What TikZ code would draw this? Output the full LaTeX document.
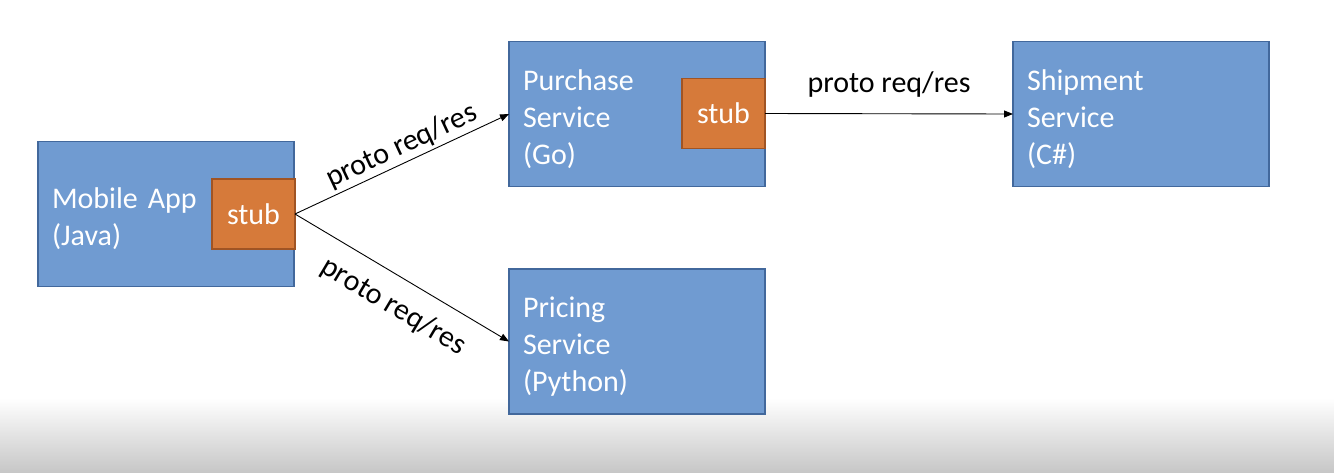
\documentclass[tikz,border=0pt]{standalone}
\usepackage{fontspec}
\setmainfont{Carlito}
\usetikzlibrary{arrows.meta}
\definecolor{svcfill}{RGB}{112,155,209}
\definecolor{svcedge}{RGB}{66,104,156}
\definecolor{stubfill}{RGB}{214,122,58}
\definecolor{stubedge}{RGB}{160,84,36}
\begin{document}
\begin{tikzpicture}[x=1pt,y=-1pt,
  every node/.style={font=\fontsize{30}{37}\selectfont},
  svc/.style={draw=svcedge, fill=svcfill, line width=1.5pt, text=white,
    align=left, text width=228pt, inner xsep=14pt, inner ysep=0pt,
    minimum height=145pt, outer sep=0pt,
    execute at begin node=\rule{0pt}{31pt}},
  stubbox/.style={draw=stubedge, fill=stubfill, line width=1.5pt, text=white,
    minimum width=83pt, minimum height=70pt, inner sep=0pt, outer sep=0pt},
  call/.style={line width=0.9pt, -{Triangle[length=9pt,width=7pt]}},
  lbl/.style={text=black, inner sep=3pt}]
  % canvas and bottom fade
  \useasboundingbox (0,0) rectangle (1334,472);
  \fill[white] (0,0) rectangle (1334,472);
  \shade[top color=white, bottom color=black!22] (0,398) rectangle (1334,472);

  % services
  \node[svc] (mobile)   at (166,214)   {Mobile App\\(Java)};
  \node[svc] (purchase) at (637,114)   {Purchase\\Service\\(Go)};
  \node[svc] (shipment) at (1141,114)  {Shipment\\Service\\(C\#)};
  \node[svc] (pricing)  at (637,341.5) {Pricing\\Service\\(Python)};

  % client stubs
  \node[stubbox] (mstub) at (253.5,214)   {stub};
  \node[stubbox] (pstub) at (723.5,113.5) {stub};

  % calls
  \draw[call] (mstub.east) -- node[lbl, sloped, above, pos=0.53] (l1) {proto req/res} (purchase.west);
  \draw[call] (mstub.east) -- node[lbl, sloped, below=13pt, pos=0.53] (l2) {proto req/res} (pricing.west);
  \draw[call] (pstub.east) -- node[lbl, above=13pt] (l3) {proto req/res} (shipment.west);
\end{tikzpicture}
\end{document}
